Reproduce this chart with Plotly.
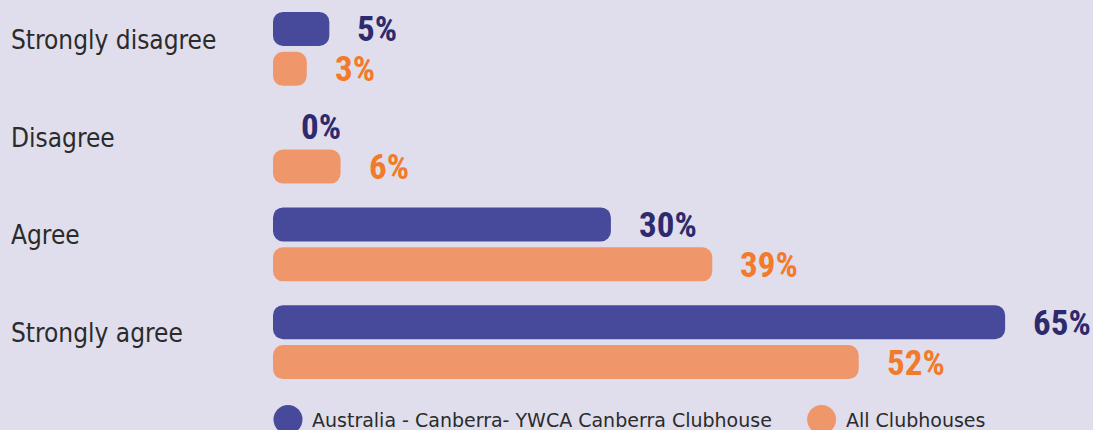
import plotly.graph_objects as go

# ---- data ----
categories = ["Strongly disagree", "Disagree", "Agree", "Strongly agree"]
series_names = ["Australia - Canberra- YWCA Canberra Clubhouse", "All Clubhouses"]
canberra = [5, 0, 30, 65]
all_clubhouses = [3, 6, 39, 52]

# ---- style ----
BG = "#E0DEEC"
BAR_COLORS = ["#474A9B", "#EF976B"]
TEXT_COLORS = ["#2D2B6E", "#F27A2B"]
LABEL_COLOR = "#2B2B2B"
CAT_FONT = "DejaVu Sans Condensed, DejaVu Sans, sans-serif"
VAL_FONT = "Roboto Condensed, Roboto, sans-serif"
LEG_FONT = "DejaVu Sans, sans-serif"

fig = go.Figure()

for i, (name, vals) in enumerate(zip(series_names, [canberra, all_clubhouses])):
    fig.add_trace(go.Bar(
        y=categories, x=vals, base=[0] * len(vals),
        orientation="h", offsetgroup=f"g{i}",
        marker=dict(color=BAR_COLORS[i], line=dict(width=0)),
        name=name, showlegend=False,
        hovertemplate="%{y}: %{x}%<extra>" + name + "</extra>",
    ))

annotations = []
# value labels
for i, vals in enumerate([canberra, all_clubhouses]):
    for cat, v in zip(categories, vals):
        annotations.append(dict(
            x=v, y=cat, xref="x", yref="y", text=f"{v}%", showarrow=False,
            xanchor="left", yanchor="middle", xshift=26, yshift=19 if i == 0 else -21,
            font=dict(family=VAL_FONT, size=35, color=TEXT_COLORS[i], weight="bold"),
        ))
# category labels
for cat in categories:
    annotations.append(dict(
        x=0, y=cat, xref="paper", yref="y", text=cat, showarrow=False,
        xanchor="left", yanchor="middle", xshift=-264, yshift=9,
        font=dict(family=CAT_FONT, size=26, color=LABEL_COLOR),
    ))
# manual legend
leg_x = [0.0183, 0.669]
shapes = []
for i, name in enumerate(series_names):
    shapes.append(dict(
        type="circle", xref="paper", yref="paper", xsizemode="pixel", ysizemode="pixel",
        xanchor=leg_x[i], yanchor=-0.0729, x0=-14.5, x1=14.5, y0=-14.5, y1=14.5,
        fillcolor=BAR_COLORS[i], line=dict(width=0),
    ))
    annotations.append(dict(
        x=leg_x[i], y=-0.074, xref="paper", yref="paper", text=name, showarrow=False,
        xanchor="left", yanchor="middle", xshift=22,
        font=dict(family=LEG_FONT, size=19, color=LABEL_COLOR),
    ))

fig.update_layout(
    width=1093, height=430,
    margin=dict(l=273, r=0, t=0, b=39),
    paper_bgcolor=BG, plot_bgcolor=BG,
    barmode="group", bargap=0.182, bargroupgap=0.15, barcornerradius=10,
    xaxis=dict(range=[0, 72.8], visible=False, fixedrange=True),
    yaxis=dict(range=[3.5, -0.5], visible=False, type="category",
               categoryorder="array", categoryarray=categories, fixedrange=True),
    annotations=annotations, shapes=shapes,
    showlegend=False,
)

fig.write_html(
    "out.html",
    config={"displayModeBar": False},
    post_script="document.body.style.margin='0';document.body.style.padding='0';"
                "document.body.style.background='" + BG + "';",
)
